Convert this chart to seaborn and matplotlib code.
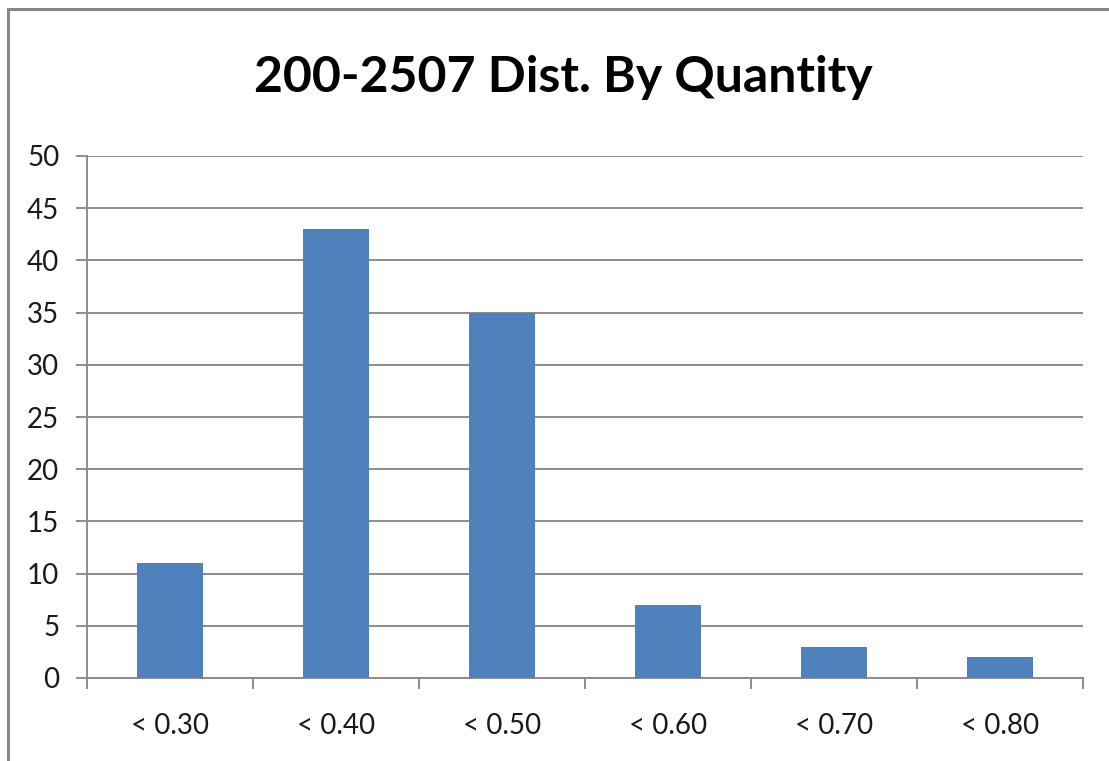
import matplotlib
matplotlib.use("Agg")
import matplotlib.pyplot as plt
from matplotlib.patches import Rectangle
from matplotlib.ticker import FixedLocator, NullFormatter
import seaborn as sns
import pandas as pd

categories = ["< 0.30", "< 0.40", "< 0.50", "< 0.60", "< 0.70", "< 0.80"]
counts = [11, 43, 35, 7, 3, 2]
y_ticks = [0, 5, 10, 15, 20, 25, 30, 35, 40, 45, 50]

sns.set_theme(style="white")
plt.rcParams["font.family"] = ["Lato", "DejaVu Sans"]

W, H = 1109, 761
fig = plt.figure(figsize=(W / 100, H / 100), dpi=100)
fig.patch.set_facecolor("white")

# outer chart frame (left and top edges visible)
fig.patches.append(Rectangle((7.5 / W, -0.1), 1.2, 1 - 9 / H + 0.1,
                             transform=fig.transFigure, fill=False,
                             edgecolor="#878787", linewidth=2.2, zorder=0))

ax = fig.add_axes([87 / W, 1 - 678 / H, (1083 - 87) / W, (678 - 156) / H])

df = pd.DataFrame({"category": categories, "count": counts})
sns.barplot(data=df, x="category", y="count", color="#4F81BD", saturation=1,
            width=0.4, ax=ax, zorder=3, edgecolor="#4F81BD", linewidth=0)

ax.set_xlim(-0.5, len(categories) - 0.5)
ax.set_ylim(0, 50)
ax.set_yticks(y_ticks)
ax.yaxis.grid(True, color="#8c8c8c", linewidth=1.4)
ax.set_axisbelow(True)

for side in ["top", "right"]:
    ax.spines[side].set_visible(False)
for side in ["left", "bottom"]:
    ax.spines[side].set_color("#8c8c8c")
    ax.spines[side].set_linewidth(1.4)

ax.set_xlabel("")
ax.set_ylabel("")

# category separators below the axis
ax.xaxis.set_minor_locator(FixedLocator([i - 0.5 for i in range(len(categories) + 1)]))
ax.xaxis.set_minor_formatter(NullFormatter())
ax.tick_params(axis="x", which="minor", bottom=True, length=8, width=1.4, color="#8c8c8c")
ax.tick_params(axis="x", which="major", bottom=False, length=0, pad=25,
               labelsize=20, labelcolor="#1a1a1a")
ax.tick_params(axis="y", which="major", left=True, length=8, width=1.4, color="#8c8c8c",
               pad=12, labelsize=20, labelcolor="#1a1a1a")

fig.text(563 / W, 1 - 78 / H, "200-2507 Dist. By Quantity", ha="center", va="center",
         fontsize=36, fontweight="bold", color="black")

fig.savefig("out.png", dpi=100)
